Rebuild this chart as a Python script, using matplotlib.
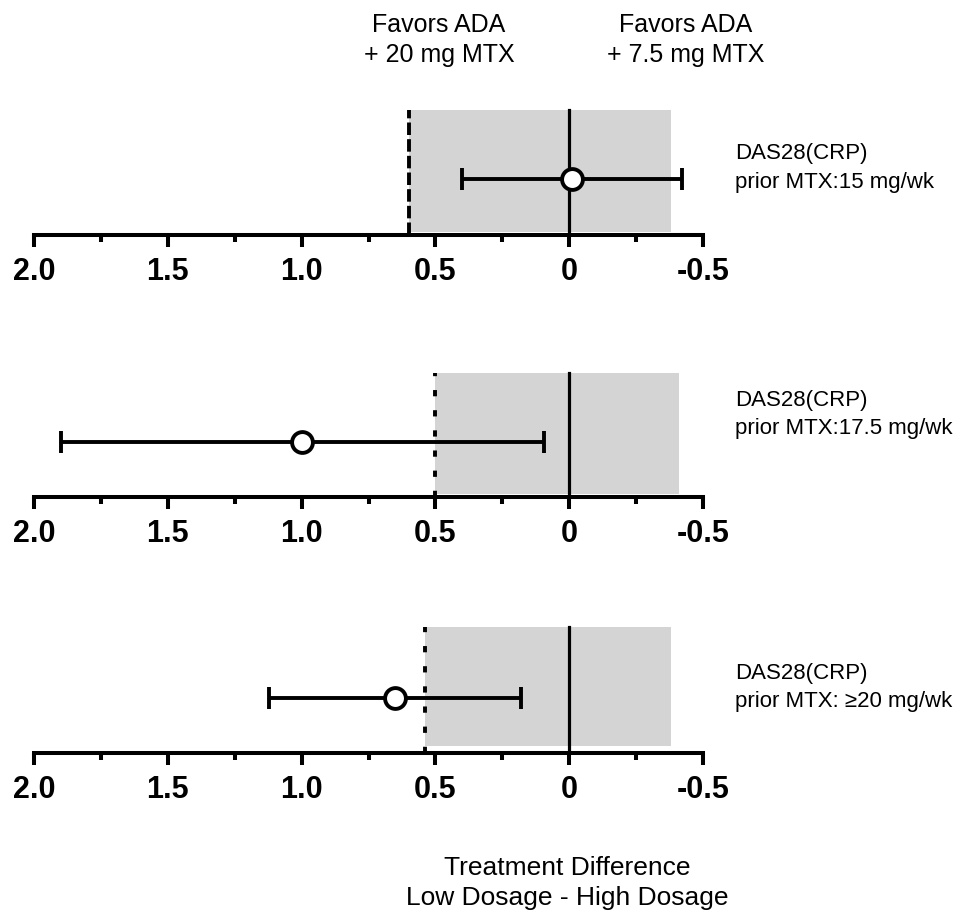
import numpy as np
import matplotlib.pyplot as plt
from matplotlib.ticker import MultipleLocator

plt.rcParams['font.family'] = ['Liberation Sans', 'DejaVu Sans']
plt.rcParams['lines.scale_dashes'] = False

# data (treatment difference, low dose - high dose)
labels_right = ["prior MTX:15 mg/wk", "prior MTX:17.5 mg/wk", "prior MTX: \u226520 mg/wk"]
estimate = [-0.01, 1.00, 0.65]
ci_low = [-0.42, 0.10, 0.18]
ci_high = [0.40, 1.905, 1.12]
margin = [0.60, 0.50, 0.54]
shade_end = [-0.38, -0.41, -0.38]
tick_vals = [2.0, 1.5, 1.0, 0.5, 0.0, -0.5]
tick_txt = ["2.0", "1.5", "1.0", "0.5", "0", "-0.5"]

W, H = 962, 911
fig = plt.figure(figsize=(W / 100, H / 100), dpi=100)

# layout in pixels
axis_y = [235, 497, 753]
rect_bot = [3, 3, 7]
rect_top = [125, 124, 126]
bar_y = [56, 55, 55]
dash_style = [(9, 3), (4.5, 10), (4.5, 10)]
txt_base = [(159, 188), (406, 434), (679, 707)]

for i in range(3):
    ax = fig.add_axes([34 / W, (H - axis_y[i]) / H, 669 / W, 130 / H])
    ax.set_xlim(2.0, -0.5)
    ax.set_ylim(0, 130)
    ax.patch.set_alpha(0)

    ax.axvspan(margin[i], shade_end[i], ymin=rect_bot[i] / 130, ymax=rect_top[i] / 130,
               color='#d4d4d4', lw=0, zorder=1)
    ax.plot([0, 0], [0, rect_top[i]], color='black', lw=2.3, zorder=2)
    ax.plot([margin[i], margin[i]], [0, rect_top[i]], color='black', lw=2.8,
            dashes=dash_style[i], zorder=3)

    err = np.array([[ci_high[i] - estimate[i]], [estimate[i] - ci_low[i]]])
    ax.errorbar([estimate[i]], [bar_y[i]], xerr=err, fmt='o', ms=15, mfc='white',
                mec='black', mew=2.8, ecolor='black', elinewidth=2.8, capsize=8,
                capthick=2.8, zorder=4, clip_on=False)

    for s in ['top', 'left', 'right']:
        ax.spines[s].set_visible(False)
    ax.spines['bottom'].set_linewidth(2.9)
    ax.set_yticks([])
    ax.set_xticks(tick_vals)
    ax.set_xticklabels(tick_txt, fontsize=22, fontweight='bold')
    ax.xaxis.set_minor_locator(MultipleLocator(0.25))
    ax.tick_params(axis='x', which='major', length=8.6, width=2.9, pad=7)
    ax.tick_params(axis='x', which='minor', length=5, width=2.9)

    b1, b2 = txt_base[i]
    fig.text(735 / W, 1 - b1 / H, "DAS28(CRP)", fontsize=16, va='baseline', ha='left')
    fig.text(735 / W, 1 - b2 / H, labels_right[i], fontsize=16, va='baseline', ha='left')

# header
fig.text(439 / W, 1 - 32 / H, "Favors ADA", fontsize=18, ha='center', va='baseline')
fig.text(439 / W, 1 - 62 / H, "+ 20 mg MTX", fontsize=18, ha='center', va='baseline')
fig.text(686 / W, 1 - 32 / H, "Favors ADA", fontsize=18, ha='center', va='baseline')
fig.text(686 / W, 1 - 62 / H, "+ 7.5 mg MTX", fontsize=18, ha='center', va='baseline')

# bottom title
fig.text(567 / W, 1 - 875 / H, "Treatment Difference", fontsize=19, ha='center', va='baseline')
fig.text(567 / W, 1 - 905 / H, "Low Dosage - High Dosage", fontsize=19, ha='center', va='baseline')

fig.savefig("out.png", dpi=100)
